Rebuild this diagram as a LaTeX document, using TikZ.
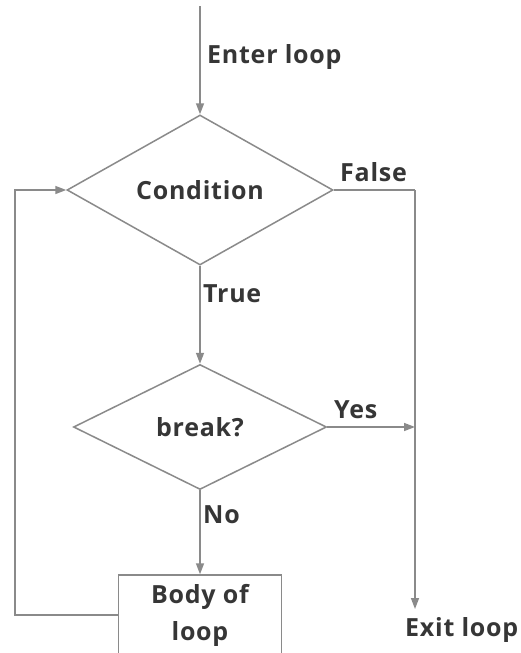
\documentclass[tikz,border=0pt]{standalone}
\usepackage{fontspec}
\setmainfont{Open Sans}[LetterSpace=3]
\usetikzlibrary{shapes.geometric,arrows.meta}

\definecolor{linegrey}{HTML}{8A8A8A}
\definecolor{textgrey}{HTML}{363636}

\begin{document}
\begin{tikzpicture}[x=1pt,y=-1pt,
  every node/.style={font=\fontsize{25}{37}\selectfont\bfseries, text=textgrey},
  flow/.style={draw=linegrey, line width=1.5pt, -{Triangle[length=11pt,width=8pt]}},
  plain/.style={draw=linegrey, line width=1.5pt},
  decision/.style={diamond, draw=linegrey, line width=1.5pt, inner sep=0pt},
  stepbox/.style={rectangle, draw=linegrey, line width=1.5pt, align=center, inner sep=0pt},
  tag/.style={anchor=west, inner sep=0pt}]

  \useasboundingbox (0,0) rectangle (520,653);
  \clip (0,0) rectangle (520,653);
  \fill[white] (0,0) rectangle (520,653);

  % blocks
  \node[decision, minimum width=266pt, minimum height=150pt] (cond) at (200,190) {Condition};
  \node[decision, minimum width=253pt, minimum height=125pt] (brk) at (200,427) {break?};
  \node[stepbox, minimum width=163pt, minimum height=80pt] (body) at (200,615) {Body of\\loop};

  % helper points
  \coordinate (start) at (200,6);
  \coordinate (lx) at (15,0);
  \coordinate (rx) at (415,0);
  \coordinate (exitpt) at (415,609);

  % connectors
  \draw[flow] (start) -- (cond.north);
  \draw[flow] (cond.south) -- (brk.north);
  \draw[flow] (brk.south) -- (body.north);
  \draw[flow] (brk.east) -- (brk.east -| rx);
  \draw[plain] (cond.east) -- (cond.east -| rx);
  \draw[flow] (cond.east -| rx) -- (exitpt);
  \draw[flow] (body.west) -- (body.west -| lx) |- (cond.west);

  % labels
  \node[tag] (lenter) at (207,57) {Enter loop};
  \node[tag] (lfalse) at (340,172) {False};
  \node[tag] (ltrue) at (203,294) {True};
  \node[tag] (lyes) at (334,410) {Yes};
  \node[tag] (lno) at (203,515) {No};
  \node[tag] (lexit) at (405,630) {Exit loop};
\end{tikzpicture}
\end{document}
